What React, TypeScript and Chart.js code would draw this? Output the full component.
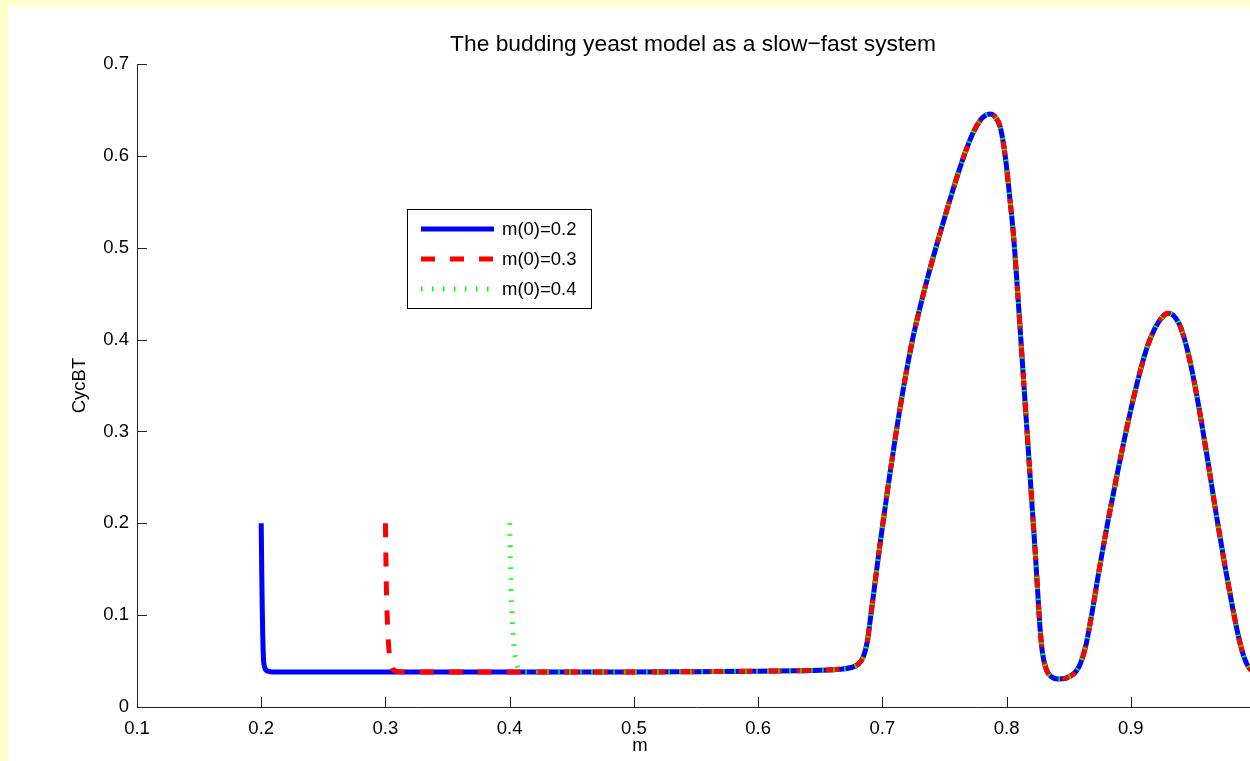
import React, { useEffect, useRef } from 'react';
import { Chart, registerables } from 'chart.js';

Chart.register(...registerables);

const chartTitle = 'The budding yeast model as a slow\u2212fast system';
const xAxisLabel = 'm';
const yAxisLabel = 'CycBT';
const seriesNames = ['m(0)=0.2', 'm(0)=0.3', 'm(0)=0.4'];
const seriesColors = ['#0000ff', '#ff0000', '#00ff00'];
const xTickLabels = ['0.1', '0.2', '0.3', '0.4', '0.5', '0.6', '0.7', '0.8', '0.9', '1'];
const yTickLabels = ['0', '0.1', '0.2', '0.3', '0.4', '0.5', '0.6', '0.7'];

// transient from m(0)=0.2
const blueStartM = [0.2, 0.2004, 0.2008, 0.2012, 0.2016, 0.202, 0.2028, 0.204, 0.206, 0.21, 0.22, 0.26, 0.3, 0.35, 0.4, 0.42];
const blueStartC = [0.2, 0.15, 0.11, 0.08, 0.06, 0.049, 0.043, 0.04, 0.0388, 0.0382, 0.038, 0.038, 0.038, 0.038, 0.038, 0.038];
// transient from m(0)=0.3
const redStartM = [0.3, 0.3004, 0.3009, 0.3015, 0.3022, 0.303, 0.304, 0.3052, 0.307, 0.31, 0.32, 0.36, 0.4, 0.42];
const redStartC = [0.2, 0.16, 0.12, 0.095, 0.075, 0.059, 0.049, 0.043, 0.04, 0.0385, 0.038, 0.038, 0.038, 0.038];
// transient from m(0)=0.4
const greenStartM = [0.4, 0.4006, 0.4013, 0.402, 0.403, 0.404, 0.4052, 0.4065, 0.408, 0.411, 0.42];
const greenStartC = [0.2, 0.16, 0.12, 0.095, 0.075, 0.059, 0.049, 0.043, 0.04, 0.0385, 0.038];

// common trajectory after the transients
const sharedM = [0.45, 0.5, 0.55, 0.6, 0.63, 0.65, 0.665, 0.675, 0.68, 0.6845, 0.688, 0.69, 0.694, 0.698, 0.702, 0.706, 0.711, 0.718, 0.724, 0.732, 0.74, 0.749, 0.758, 0.766, 0.773, 0.779, 0.783, 0.7868, 0.791, 0.795, 0.799, 0.803, 0.8055, 0.809, 0.813, 0.817, 0.821, 0.8235, 0.8255, 0.827, 0.829, 0.832, 0.836, 0.8415, 0.848, 0.854, 0.858, 0.861, 0.864, 0.867, 0.87, 0.873, 0.877, 0.882, 0.889, 0.897, 0.905, 0.913, 0.919, 0.925, 0.93, 0.934, 0.939, 0.944, 0.949, 0.955, 0.962, 0.969, 0.976, 0.982, 0.987, 0.991, 0.995, 1.0];
const sharedC = [0.038, 0.038, 0.0385, 0.039, 0.0395, 0.04, 0.041, 0.043, 0.046, 0.054, 0.072, 0.092, 0.134, 0.176, 0.215, 0.253, 0.298, 0.355, 0.398, 0.444, 0.485, 0.5275, 0.568, 0.601, 0.625, 0.639, 0.644, 0.6455, 0.642, 0.631, 0.599, 0.549, 0.515, 0.45, 0.37, 0.29, 0.21, 0.16, 0.116, 0.085, 0.058, 0.041, 0.033, 0.0305, 0.0315, 0.036, 0.043, 0.053, 0.068, 0.089, 0.112, 0.137, 0.168, 0.205, 0.253, 0.305, 0.352, 0.391, 0.411, 0.424, 0.4286, 0.4265, 0.417, 0.397, 0.368, 0.325, 0.268, 0.208, 0.152, 0.108, 0.075, 0.055, 0.043, 0.037];

const toPoints = (ms: number[], cs: number[]) => ms.map((m, i) => ({ x: m, y: cs[i] }));

const FONT = '"Liberation Sans", Arial, Helvetica, sans-serif';

const decorPlugin = {
  id: 'decor',
  afterDraw(chart: any) {
    const { ctx, chartArea, scales } = chart;
    const xs = scales.x;
    const ys = scales.y;
    ctx.save();
    // inward ticks
    ctx.strokeStyle = '#222';
    ctx.lineWidth = 1;
    ctx.beginPath();
    xs.ticks.forEach((t: any) => {
      const px = Math.round(xs.getPixelForValue(t.value)) + 0.5;
      ctx.moveTo(px, chartArea.bottom);
      ctx.lineTo(px, chartArea.bottom - 10);
    });
    ys.ticks.forEach((t: any) => {
      const py = Math.round(ys.getPixelForValue(t.value)) + 0.5;
      ctx.moveTo(chartArea.left, py);
      ctx.lineTo(chartArea.left + 10, py);
    });
    ctx.stroke();

    // title (centred over the full axes width)
    ctx.fillStyle = '#000';
    ctx.font = `22.8px ${FONT}`;
    ctx.textAlign = 'center';
    ctx.textBaseline = 'middle';
    ctx.fillText(chartTitle, chartArea.left + 556, chartArea.top - 19);

    // x axis label
    ctx.font = `18.5px ${FONT}`;
    ctx.fillText(xAxisLabel, chartArea.left + 503, chartArea.bottom + 39);

    // legend
    const bx = chartArea.left + 270;
    const by = chartArea.top + 145;
    const bw = 184;
    const bh = 99;
    ctx.fillStyle = '#fff';
    ctx.fillRect(bx, by, bw, bh);
    ctx.strokeStyle = '#000';
    ctx.lineWidth = 1;
    ctx.strokeRect(bx + 0.5, by + 0.5, bw, bh);
    const legendOrder = [0, 1, 2];
    legendOrder.forEach((di, row) => {
      const ds = chart.data.datasets[di];
      const ly = by + 20 + row * 30;
      ctx.save();
      ctx.strokeStyle = ds.borderColor;
      ctx.lineWidth = ds.borderWidth;
      ctx.lineCap = 'butt';
      ctx.setLineDash(ds.borderDash || []);
      ctx.beginPath();
      ctx.moveTo(bx + 14, ly);
      ctx.lineTo(bx + 87, ly);
      ctx.stroke();
      ctx.restore();
      ctx.fillStyle = '#000';
      ctx.font = `18.5px ${FONT}`;
      ctx.textAlign = 'left';
      ctx.textBaseline = 'middle';
      ctx.fillText(ds.label, bx + 95, ly + 1);
    });
    ctx.restore();
  },
};

export default function App() {
  const ref = useRef<HTMLCanvasElement | null>(null);

  useEffect(() => {
    if (!ref.current) return;
    const common = {
      pointRadius: 0,
      borderWidth: 5,
      fill: false,
      cubicInterpolationMode: 'monotone' as const,
      borderCapStyle: 'butt' as const,
      borderJoinStyle: 'round' as const,
    };
    const chart = new Chart(ref.current, {
      type: 'line',
      data: {
        datasets: [
          {
            ...common,
            label: seriesNames[0],
            data: toPoints([...blueStartM, ...sharedM], [...blueStartC, ...sharedC]),
            borderColor: seriesColors[0],
            order: 3,
          },
          {
            ...common,
            label: seriesNames[1],
            data: toPoints([...redStartM, ...sharedM], [...redStartC, ...sharedC]),
            borderColor: seriesColors[1],
            borderDash: [14, 15],
            order: 2,
          },
          {
            ...common,
            label: seriesNames[2],
            data: toPoints([...greenStartM, ...sharedM], [...greenStartC, ...sharedC]),
            borderColor: seriesColors[2],
            borderDash: [1.5, 9.5],
            order: 1,
          },
        ],
      },
      options: {
        animation: false,
        responsive: false,
        events: [],
        layout: { padding: { left: 0, right: 123, top: 57, bottom: 0 } },
        plugins: {
          legend: { display: false },
          tooltip: { enabled: false },
          title: { display: false },
        },
        scales: {
          x: {
            type: 'linear',
            min: 0.1,
            max: 1.0,
            grid: { display: false, drawTicks: false },
            border: { display: true, color: '#222', width: 1 },
            ticks: {
              stepSize: 0.1,
              padding: 11,
              color: '#000',
              font: { family: FONT, size: 18.5 },
              maxRotation: 0,
              autoSkip: false,
              callback: (_v: any, i: number) => xTickLabels[i],
            },
            afterFit: (s: any) => {
              s.height = 54;
            },
          },
          y: {
            type: 'linear',
            min: 0,
            max: 0.7,
            grid: { display: false, drawTicks: false },
            border: { display: true, color: '#222', width: 1 },
            ticks: {
              stepSize: 0.1,
              padding: 8,
              color: '#000',
              font: { family: FONT, size: 18.5 },
              autoSkip: false,
              callback: (_v: any, i: number) => yTickLabels[i],
            },
            title: {
              display: true,
              text: yAxisLabel,
              color: '#000',
              font: { family: FONT, size: 18.5 },
              padding: { top: 60.9, bottom: 0 },
            },
            afterFit: (s: any) => {
              s.width = 129;
            },
          },
        },
      },
      plugins: [decorPlugin],
    });
    return () => chart.destroy();
  }, []);

  return (
    <>
      <style>{'html{overflow:hidden;background:#ffffcc;}'}</style>
      <div
        style={{
          position: 'fixed',
          left: 8,
          top: 7,
          width: 1242,
          height: 754,
          overflow: 'hidden',
          background: '#fff',
        }}
      >
        <canvas ref={ref} width={1370} height={754} style={{ display: 'block' }} />
      </div>
    </>
  );
}
